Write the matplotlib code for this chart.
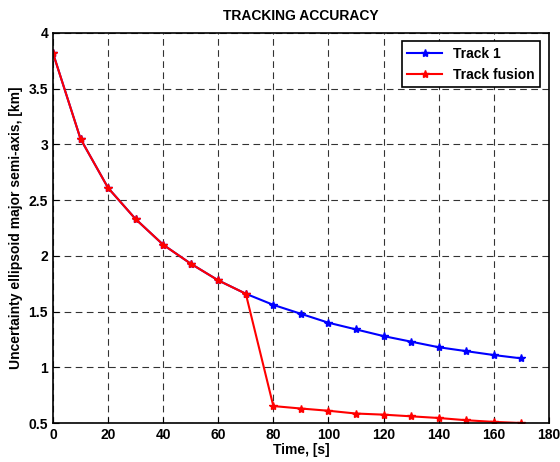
import matplotlib
matplotlib.use("Agg")
import matplotlib.pyplot as plt

plt.rcParams['font.family'] = ['Liberation Sans', 'DejaVu Sans']
plt.rcParams['font.weight'] = 'bold'

time_s = [0, 10, 20, 30, 40, 50, 60, 70, 80, 90, 100, 110, 120, 130, 140, 150, 160, 170]
track1 = [3.82, 3.05, 2.61, 2.33, 2.10, 1.93, 1.78, 1.66, 1.56, 1.48, 1.40, 1.34,
          1.28, 1.23, 1.18, 1.145, 1.11, 1.08]
fusion = [3.82, 3.05, 2.61, 2.33, 2.10, 1.93, 1.78, 1.66, 0.652, 0.63, 0.61, 0.585,
          0.575, 0.56, 0.545, 0.525, 0.51, 0.50]

fig = plt.figure(figsize=(5.6, 4.62), dpi=100)
ax = fig.add_axes([0.0946, 0.0844, 0.8854, 0.8442])

ax.plot(time_s, track1, 'b-', marker='*', markersize=6, linewidth=1.5, label='Track 1')
ax.plot(time_s, fusion, 'r-', marker='*', markersize=6, linewidth=1.5, label='Track fusion')

ax.set_xlim(0, 180)
ax.set_ylim(0.5, 4)
ax.set_xticks(range(0, 181, 20))
ax.set_yticks([0.5, 1, 1.5, 2, 2.5, 3, 3.5, 4])
ax.set_yticklabels(['0.5', '1', '1.5', '2', '2.5', '3', '3.5', '4'])
ax.grid(True, color='black', linestyle=(0, (6, 4)), linewidth=0.8, alpha=0.8)
ax.tick_params(direction='in', labelsize=10, length=4)
for sp in ax.spines.values():
    sp.set_linewidth(1.2)

ax.set_xlabel('Time, [s]', fontsize=10, fontweight='bold', labelpad=1)
ax.set_ylabel('Uncertainty ellipsoid major semi-axis, [km]', fontsize=10, fontweight='bold', labelpad=4)
ax.set_title('TRACKING ACCURACY', fontsize=10, fontweight='bold', pad=9)

leg = ax.legend(loc='upper right', fontsize=10, fancybox=False, framealpha=1,
                edgecolor='black', borderaxespad=0.6, handlelength=2.5)
leg.get_frame().set_linewidth(1.2)

plt.savefig('out.png', dpi=100)
